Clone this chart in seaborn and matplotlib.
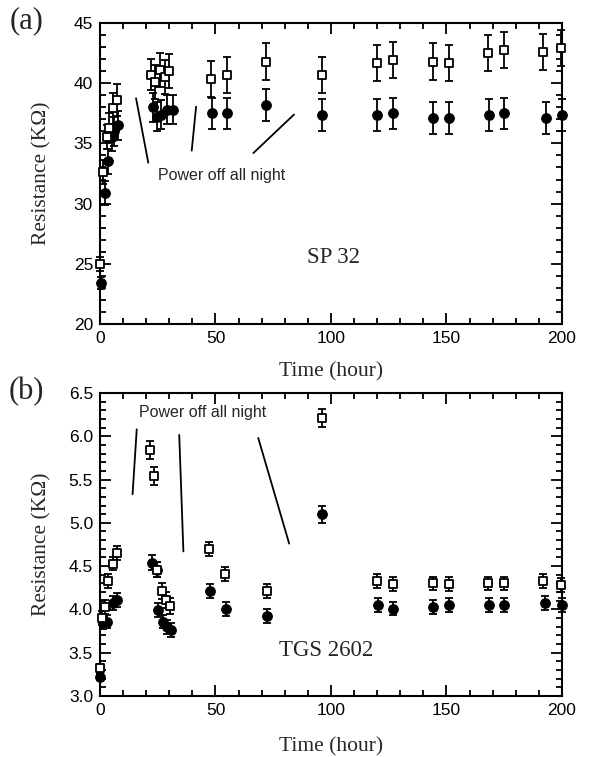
import numpy as np
import pandas as pd
import matplotlib
matplotlib.use("Agg")
import matplotlib.pyplot as plt
import seaborn as sns
from matplotlib.ticker import MultipleLocator

# ---------------- data: panel (a) SP 32 ----------------
a_sq_t = [0, 1.5, 3, 4, 5.5, 7.5, 22, 24, 26, 28, 30, 48, 55, 72, 96,
          120, 127, 144, 151, 168, 175, 192, 199.5]
a_sq_v = [25.0, 32.6, 35.5, 36.3, 37.9, 38.6, 40.7, 40.1, 41.1, 40.5, 41.0,
          40.35, 40.7, 41.8, 40.7, 41.65, 41.9, 41.8, 41.65, 42.5, 42.75, 42.6, 42.9]
a_sq_e = [0.6, 1.0, 1.0, 1.2, 1.3, 1.3, 1.3, 1.4, 1.4, 1.4, 1.4, 1.5, 1.5, 1.5, 1.5,
          1.5, 1.5, 1.5, 1.5, 1.5, 1.5, 1.5, 1.5]
a_ci_t = [0.5, 2, 3.5, 5, 6, 8, 23, 24.5, 26.5, 29, 31.5, 48.5, 55, 72, 96,
          120, 127, 144, 151, 168.5, 175, 193, 200]
a_ci_v = [23.4, 30.9, 33.5, 35.5, 36.0, 36.5, 38.0, 37.2, 37.4, 37.8, 37.8,
          37.5, 37.5, 38.2, 37.35, 37.35, 37.5, 37.1, 37.1, 37.35, 37.5, 37.1, 37.35]
a_ci_e = [0.5, 1.0, 1.0, 1.1, 1.2, 1.2, 1.2, 1.2, 1.2, 1.2, 1.2, 1.3, 1.3, 1.3, 1.3,
          1.3, 1.3, 1.3, 1.3, 1.3, 1.3, 1.3, 1.3]

# ---------------- data: panel (b) TGS 2602 ----------------
b_sq_t = [0, 0.7, 2.2, 3.6, 5.8, 7.2, 21.6, 23.4, 24.5, 26.7, 28.6, 30.3, 47.3, 54.3, 72.2, 96,
          120, 127, 144, 151, 168, 175, 192, 199.5]
b_sq_v = [3.32, 3.90, 4.03, 4.33, 4.53, 4.65, 5.84, 5.54, 4.46, 4.21, 4.11, 4.04, 4.70, 4.41, 4.21, 6.21,
          4.33, 4.29, 4.30, 4.29, 4.30, 4.30, 4.33, 4.28]
b_sq_e = [0.05, 0.08, 0.08, 0.08, 0.08, 0.08, 0.10, 0.10, 0.09, 0.09, 0.09, 0.09, 0.08, 0.08, 0.08, 0.10,
          0.08, 0.08, 0.08, 0.08, 0.08, 0.08, 0.08, 0.08]
b_ci_t = [0, 1.4, 2.9, 5.8, 7.2, 22.4, 24.5, 25, 27.4, 28.9, 30.7, 47.6, 54.5, 72.4, 96.2,
          120.2, 127, 144, 151, 168.4, 174.9, 192.6, 199.8]
b_ci_v = [3.22, 3.84, 3.86, 4.07, 4.11, 4.54, 4.46, 3.99, 3.86, 3.80, 3.76, 4.21, 4.00, 3.92, 5.10,
          4.05, 4.01, 4.03, 4.05, 4.05, 4.05, 4.07, 4.05]
b_ci_e = [0.04, 0.07, 0.07, 0.08, 0.08, 0.09, 0.09, 0.08, 0.08, 0.08, 0.08, 0.08, 0.08, 0.08, 0.10,
          0.08, 0.08, 0.08, 0.08, 0.08, 0.08, 0.08, 0.08]

# annotation ("Power off all night") pointer lines, data coordinates [x1, x2], [y1, y2]
a_lines = [([15.6, 20.9], [38.75, 33.4]), ([41.6, 39.7], [38.05, 34.4]), ([84.0, 66.4], [37.4, 34.2])]
b_lines = [([15.9, 14.1], [6.08, 5.33]), ([34.3, 36.1], [6.015, 4.67]), ([68.5, 81.9], [5.98, 4.76])]

sns.set_theme(style="ticks")
plt.rcParams['font.family'] = ['Liberation Sans', 'DejaVu Sans']
SERIF = ['Liberation Serif', 'DejaVu Serif']

fig = plt.figure(figsize=(5.9, 7.57), dpi=100)
ax1 = fig.add_axes([0.1695, 0.572, 0.783, 0.3976])
ax2 = fig.add_axes([0.1695, 0.0806, 0.783, 0.4003])


def panel(ax, sq_t, sq_v, sq_e, ci_t, ci_v, ci_e, capsize):
    ax.errorbar(sq_t, sq_v, yerr=sq_e, fmt='none', ecolor='black', elinewidth=1.3,
                capsize=capsize, capthick=1.3, clip_on=False, zorder=2)
    ax.errorbar(ci_t, ci_v, yerr=ci_e, fmt='none', ecolor='black', elinewidth=1.3,
                capsize=capsize, capthick=1.3, clip_on=False, zorder=2)
    dsq = pd.DataFrame({'t': sq_t, 'v': sq_v})
    dci = pd.DataFrame({'t': ci_t, 'v': ci_v})
    sns.scatterplot(data=dci, x='t', y='v', ax=ax, marker='o', s=48, color='black',
                    edgecolor='black', linewidth=0.8, clip_on=False, zorder=3)
    sns.scatterplot(data=dsq, x='t', y='v', ax=ax, marker='s', s=34, facecolor='white',
                    edgecolor='black', linewidth=1.3, clip_on=False, zorder=4)
    ax.set_xlim(0, 200)
    ax.xaxis.set_major_locator(MultipleLocator(50))
    ax.xaxis.set_minor_locator(MultipleLocator(10))
    ax.tick_params(which='both', direction='in', top=True, right=True, width=1.3,
                   colors='black', labelsize=12.5)
    ax.tick_params(which='major', length=8, pad=5)
    ax.tick_params(which='minor', length=4.5)
    for s in ax.spines.values():
        s.set_linewidth(1.5)
        s.set_color('black')
    ax.set_xlabel('Time (hour)', family=SERIF, fontsize=15.5)
    ax.set_ylabel('Resistance (K\u03a9)', family=SERIF, fontsize=15.5)
    ax.yaxis.set_label_coords(-0.105, 0.5)


panel(ax1, a_sq_t, a_sq_v, a_sq_e, a_ci_t, a_ci_v, a_ci_e, 3)
ax1.set_ylim(20, 45)
ax1.yaxis.set_major_locator(MultipleLocator(5))
ax1.yaxis.set_minor_locator(MultipleLocator(1))
ax1.xaxis.set_label_coords(0.5, -0.128)
for xs, ys in a_lines:
    ax1.plot(xs, ys, color='black', lw=1.3)
ax1.text(52.8, 32.3, 'Power off all night', fontsize=11.5, ha='center', va='center')
ax1.text(101, 25.5, 'SP 32', family=SERIF, fontsize=16.5, ha='center', va='center')

panel(ax2, b_sq_t, b_sq_v, b_sq_e, b_ci_t, b_ci_v, b_ci_e, 3)
ax2.set_ylim(3.0, 6.5)
ax2.yaxis.set_major_locator(MultipleLocator(0.5))
ax2.yaxis.set_minor_locator(MultipleLocator(0.1))
ax2.yaxis.set_major_formatter(matplotlib.ticker.FormatStrFormatter('%.1f'))
ax2.xaxis.set_label_coords(0.5, -0.135)
for xs, ys in b_lines:
    ax2.plot(xs, ys, color='black', lw=1.3)
ax2.text(44.3, 6.27, 'Power off all night', fontsize=11.5, ha='center', va='center')
ax2.text(98, 3.53, 'TGS 2602', family=SERIF, fontsize=16.5, ha='center', va='center')

fig.text(0.045, 0.973, '(a)', family=SERIF, fontsize=22, ha='center', va='center')
fig.text(0.045, 0.483, '(b)', family=SERIF, fontsize=22, ha='center', va='center')

fig.savefig('out.png', dpi=100)
